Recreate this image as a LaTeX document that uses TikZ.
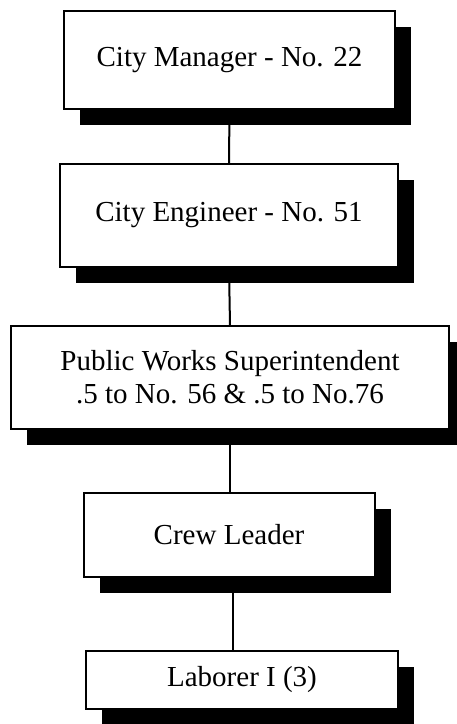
\documentclass[tikz,border=0pt]{standalone}
\usepackage{fontspec}
\setmainfont{Liberation Serif}
\usetikzlibrary{shadows}
\tikzset{
  post/.style={draw=black, line width=2pt, fill=white, inner sep=0pt,
    align=center, font=\fontsize{29}{33}\selectfont,
    drop shadow={shadow xshift=16pt, shadow yshift=-16pt, fill=black, opacity=1}},
  link/.style={draw=black, line width=2pt}
}
\begin{document}
\begin{tikzpicture}[x=1pt,y=-1pt]
  \clip (0,0) rectangle (457,724);
  \fill[white] (0,0) rectangle (457,724);
  \node[post, minimum width=331pt, minimum height=98pt] (mgr) at (229.5,60) {City Manager - No. 22};
  \node[post, minimum width=338pt, minimum height=103pt] (eng) at (229,215.5) {City Engineer - No. 51};
  \node[post, minimum width=438pt, minimum height=103pt] (sup) at (230,377.5) {Public Works Superintendent\\ .5 to No. 56 \& .5 to No.76};
  \node[post, minimum width=291pt, minimum height=84pt] (crew) at (229,535) {Crew Leader};
  \node[post, minimum width=312pt, minimum height=58pt] (lab) at (242,680) {Laborer I (3)};
  \draw[link] (mgr.south) -- (eng.north);
  \draw[link] (eng.south) -- (sup.north);
  \draw[link] (sup.south) -- (sup.south |- crew.north);
  \draw[link] ([xshift=4pt]crew.south) -- ([xshift=4pt]crew.south |- lab.north);
\end{tikzpicture}
\end{document}
